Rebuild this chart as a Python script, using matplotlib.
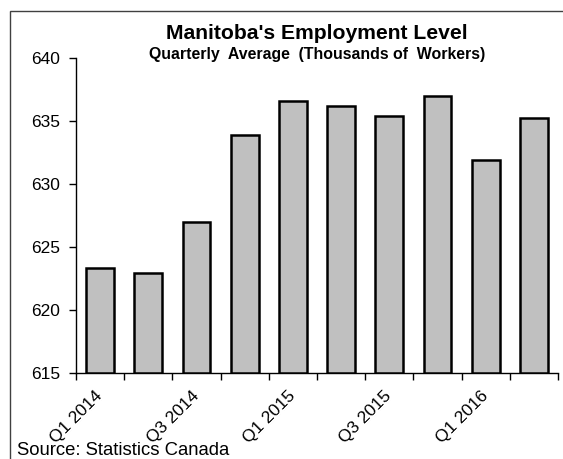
import matplotlib.pyplot as plt
from matplotlib.patches import Rectangle

plt.rcParams['font.family'] = ['Liberation Sans', 'DejaVu Sans']

quarters = ['Q1 2014', 'Q2 2014', 'Q3 2014', 'Q4 2014', 'Q1 2015',
            'Q2 2015', 'Q3 2015', 'Q4 2015', 'Q1 2016', 'Q2 2016']
employment = [623.3, 622.9, 627.0, 633.9, 636.6, 636.2, 635.4, 637.0, 631.9, 635.2]
y_ticks = [615, 620, 625, 630, 635, 640]

W, H = 563, 459
fig = plt.figure(figsize=(W / 100, H / 100), dpi=100)
ax = fig.add_axes([76 / W, (H - 372.5) / H, (558 - 76) / W, (372.5 - 58) / H])

x = range(len(quarters))
ax.bar(x, [v - 615 for v in employment], bottom=615, width=0.58,
       color='#c0c0c0', edgecolor='black', linewidth=1.8, zorder=3)

ax.set_xlim(-0.5, len(quarters) - 0.5)
ax.set_ylim(615, 640)
ax.set_yticks(y_ticks)
ax.tick_params(axis='y', labelsize=12.5, length=5, width=1, pad=6.5)

# tick marks between categories, labels on every other bar
ax.set_xticks([i - 0.5 for i in range(len(quarters) + 1)])
ax.set_xticklabels([])
ax.set_xticks(list(x)[::2], minor=True)
ax.set_xticklabels(quarters[::2], minor=True, rotation=45, ha='right',
                   va='center', rotation_mode='anchor', fontsize=12.5)
ax.tick_params(axis='x', which='major', length=5, width=1)
ax.tick_params(axis='x', which='minor', length=0, pad=15)

for s in ['top', 'right']:
    ax.spines[s].set_visible(False)
for s in ['left', 'bottom']:
    ax.spines[s].set_linewidth(1)

fig.text(317 / W, 1 - 39 / H, "Manitoba's Employment Level", ha='center',
         va='baseline', fontsize=15.2, fontweight='bold')
fig.text(317 / W, 1 - 59 / H, 'Quarterly  Average  (Thousands of  Workers)',
         ha='center', va='baseline', fontsize=11.4, fontweight='bold')
fig.text(17 / W, 1 - 455 / H, 'Source: Statistics Canada', ha='left',
         va='baseline', fontsize=13.3)

# outer chart frame
fig.patches.append(Rectangle((10 / W, -0.1), 1.2, 1 - 11 / H + 0.1,
                             transform=fig.transFigure, fill=False,
                             edgecolor='#404040', linewidth=1))

fig.savefig('out.png', dpi=100)
